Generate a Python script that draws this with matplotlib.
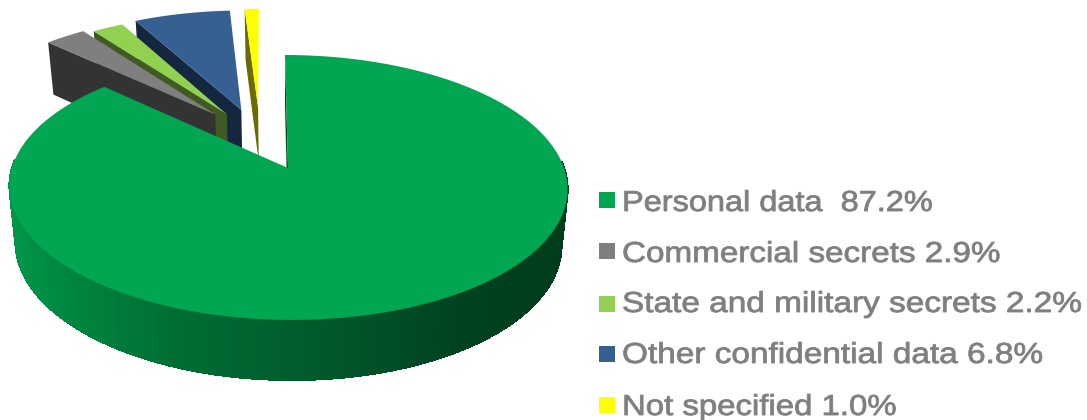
import numpy as np
import matplotlib
matplotlib.use('Agg')
import matplotlib.pyplot as plt
from matplotlib.collections import PolyCollection
from matplotlib.patches import Polygon, Rectangle
from matplotlib.patheffects import AbstractPathEffect
from matplotlib.transforms import Affine2D

categories = ['Personal data ', 'Commercial secrets', 'State and military secrets',
              'Other confidential data', 'Not specified']
values = [87.2, 2.9, 2.2, 6.8, 1.0]

top_colors = ['#00A651', '#7F7F7F', '#92D050', '#376092', '#FFFF00']
wall_colors = ['#004A20', '#333333', '#3F5A22', '#15263F', '#6B6B00']
# how far each slice is pulled out of the pie, on the pie's own plane
offsets = [(0.0, 0.0), (-0.275, 0.44), (-0.23, 0.44), (-0.175, 0.48), (-0.11, 0.50)]
label_stretch = [1.125, 1.15, 1.155, 1.155, 1.14]

# pie geometry in pixels
CX, CY = 288.0, 168.0
RX, RY = 276.0, 129.6
PERSP = 0.147
LEAN = 3.5
DEPTH = 55.7
BOTTOM_RY = 133.3
BOTTOM_SCALE = 0.978


class WideText(AbstractPathEffect):
    # stretches glyphs sideways and fattens them a little
    def __init__(self, stretch, x0, weight):
        super().__init__()
        self.stretch = stretch
        self.x0 = x0
        self.weight = weight

    def draw_path(self, renderer, gc, tpath, affine, rgbFace):
        wide = affine + Affine2D().translate(-self.x0, 0).scale(self.stretch, 1).translate(self.x0, 0)
        gc0 = renderer.new_gc()
        gc0.copy_properties(gc)
        gc0.set_linewidth(self.weight)
        gc0.set_foreground(rgbFace)
        renderer.draw_path(gc0, tpath, wide, rgbFace)
        gc0.restore()


def project(u, v, bottom=False):
    w = 1 + PERSP * v
    x = (RX * u - LEAN * v) / w
    if bottom:
        return CX + BOTTOM_SCALE * x, CY + DEPTH - BOTTOM_RY * v / w
    return CX + x, CY - RY * v / w


def front_shade(x):
    # side of the big slice gets darker towards the right
    stops = [10, 60, 170, 330, 460, 570]
    r = np.zeros_like(x)
    g = np.interp(x, stops, [150, 135, 110, 88, 66, 60])
    b = np.interp(x, stops, [72, 65, 52, 42, 32, 28])
    return np.column_stack([r, g, b]) / 255.0


fig = plt.figure(figsize=(10.87, 4.2), dpi=100)
ax = fig.add_axes([0, 0, 1, 1])
ax.set_xlim(0, 1087)
ax.set_ylim(420, 0)
ax.axis('off')

fracs = np.array(values) / np.sum(values)
ends = np.cumsum(fracs) * 2 * np.pi
starts = ends - fracs * 2 * np.pi

# far slices first, the big one last so it sits on top
for i in [4, 3, 2, 1, 0]:
    theta = np.linspace(starts[i], ends[i], 500)
    u0, v0 = offsets[i]
    u = u0 + np.sin(theta)
    v = v0 + np.cos(theta)

    tx, ty = project(u, v)
    bx, by = project(u, v, bottom=True)
    tipx, tipy = project(u0, v0)
    btipx, btipy = project(u0, v0, bottom=True)

    # the cut wall on the left of a slice faces us
    ax.add_patch(Polygon([(tx[0], ty[0]), (tipx, tipy), (btipx, btipy), (bx[0], by[0])],
                         facecolor=wall_colors[i], edgecolor='none'))
    if i == 0:
        # only the front half of the rim needs a wall
        front = [j for j in range(len(theta) - 1) if v[j] < 0.05]
        quads = [[(tx[j], ty[j]), (tx[j + 1], ty[j + 1]), (bx[j + 1], by[j + 1]), (bx[j], by[j])]
                 for j in front]
        shades = front_shade((tx[front] + tx[np.array(front) + 1]) / 2)
        # no antialiasing here, thin quads would show seams
        ax.add_collection(PolyCollection(quads, facecolors=shades, edgecolors=shades,
                                         linewidths=0.8, antialiaseds=False))

    face = np.column_stack([np.r_[tipx, tx], np.r_[tipy, ty]])
    ax.add_patch(Polygon(face, facecolor=top_colors[i], edgecolor='none'))

# legend
box_y = [192, 243, 296, 346, 397]
base_y = [211, 262, 312, 363, 415]
for i in range(len(values)):
    ax.add_patch(Rectangle((599, box_y[i]), 16, 16, facecolor=top_colors[i], edgecolor='none'))
    ax.text(622, base_y[i], '%s %.1f%%' % (categories[i], values[i]), family='Liberation Sans',
            fontsize=20.8, color='#7F7F7F', va='baseline', ha='left',
            path_effects=[WideText(label_stretch[i], 622, 0.6)])

fig.savefig('out.png', dpi=100)
